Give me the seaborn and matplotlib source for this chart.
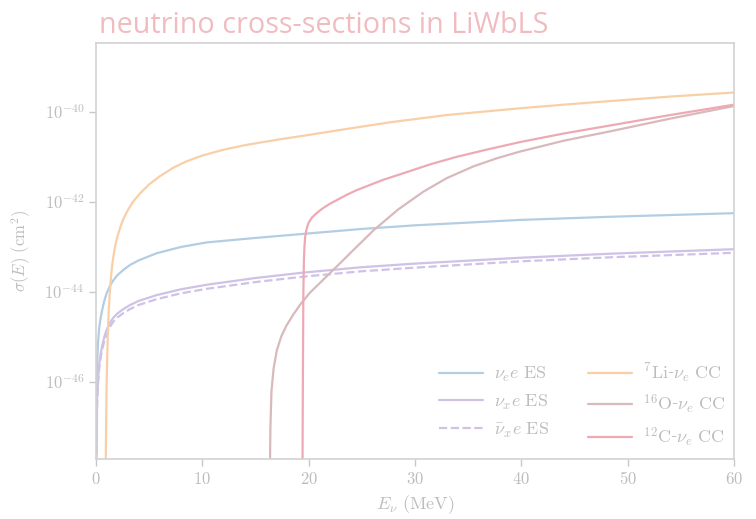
import numpy as np
import pandas as pd
import matplotlib
matplotlib.use("Agg")
import matplotlib.pyplot as plt
import seaborn as sns

# Neutrino energies (MeV) and log10 of the cross-section (cm^2) for each channel
e_nue_es = [0.02, 0.1, 0.2, 0.3, 0.45, 0.6, 0.8, 1.0, 1.3, 1.6, 2.0, 2.57, 3.2, 4.0, 5.7, 8.0, 10.4, 15.0, 19.5,
            25.0, 30.0, 39.9, 48.4, 60.0]
s_nue_es = [-47.5, -45.6, -45.1, -44.8, -44.55, -44.38, -44.18, -44.03, -43.87, -43.75, -43.63, -43.51, -43.4,
            -43.3, -43.14, -43.0, -42.9, -42.8, -42.71, -42.6, -42.52, -42.4, -42.33, -42.25]

e_nux_es = [0.02, 0.1, 0.2, 0.3, 0.45, 0.6, 0.8, 1.0, 1.3, 1.6, 2.0, 2.57, 3.2, 4.0, 5.7, 8.0, 10.4, 15.0, 19.5,
            25.0, 30.0, 39.9, 48.4, 60.0]
s_nux_es = [-48.3, -46.4, -45.9, -45.6, -45.35, -45.17, -44.98, -44.84, -44.69, -44.58, -44.48, -44.38, -44.29,
            -44.2, -44.07, -43.94, -43.84, -43.69, -43.57, -43.45, -43.37, -43.24, -43.15, -43.05]

e_nuxbar_es = [0.02, 0.1, 0.2, 0.3, 0.45, 0.6, 0.8, 1.0, 1.3, 1.6, 2.0, 2.57, 3.2, 4.0, 5.7, 8.0, 10.4, 15.0, 19.5,
               25.0, 30.0, 39.9, 48.4, 60.0]
s_nuxbar_es = [-48.4, -46.5, -46.0, -45.7, -45.44, -45.26, -45.07, -44.93, -44.78, -44.67, -44.57, -44.47, -44.38,
               -44.29, -44.16, -44.03, -43.93, -43.78, -43.66, -43.54, -43.46, -43.32, -43.23, -43.13]

e_li7_cc = [0.86, 0.95, 1.0, 1.1, 1.2, 1.3, 1.4, 1.5, 1.63, 1.8, 2.0, 2.3, 2.57, 3.0, 3.5, 4.14, 5.0, 6.0, 7.27,
            8.5, 10.0, 12.0, 14.0, 17.0, 19.8, 23.0, 27.7, 33.0, 39.9, 44.0, 48.4, 54.0, 60.0]
s_li7_cc = [-49.0, -47.0, -46.0, -45.0, -44.4, -44.0, -43.7, -43.45, -43.22, -42.98, -42.78, -42.55, -42.38,
            -42.18, -41.99, -41.81, -41.61, -41.43, -41.24, -41.1, -40.97, -40.84, -40.74, -40.62, -40.52, -40.4,
            -40.23, -40.07, -39.92, -39.84, -39.76, -39.66, -39.57]

e_o16_cc = [16.3, 16.4, 16.5, 16.7, 17.0, 17.4, 17.9, 18.5, 19.2, 20.1, 21.4, 23.0, 24.5, 26.1, 28.4, 30.8, 33.0,
            35.5, 37.7, 39.9, 44.0, 48.4, 54.0, 60.0]
s_o16_cc = [-49.0, -47.0, -46.2, -45.7, -45.3, -45.0, -44.75, -44.52, -44.28, -44.02, -43.72, -43.35, -43.0,
            -42.63, -42.17, -41.77, -41.47, -41.21, -41.03, -40.88, -40.64, -40.43, -40.15, -39.87]

e_c12_cc = [19.4, 19.45, 19.5, 19.55, 19.6, 19.66, 19.75, 19.85, 20.0, 20.3, 20.6, 21.0, 21.4, 22.0, 22.8, 23.6,
            24.5, 27.0, 29.2, 31.5, 33.9, 36.9, 39.9, 44.0, 48.4, 54.0, 60.0]
s_c12_cc = [-49.0, -46.0, -44.0, -43.3, -43.0, -42.8, -42.66, -42.56, -42.46, -42.35, -42.28, -42.2, -42.13,
            -42.04, -41.94, -41.84, -41.74, -41.51, -41.34, -41.16, -41.0, -40.83, -40.67, -40.48, -40.3, -40.07,
            -39.84]

channels = [
    (r"$\nu_e e\ \mathrm{ES}$", e_nue_es, s_nue_es, "#b3cde3", "-"),
    (r"$\nu_x e\ \mathrm{ES}$", e_nux_es, s_nux_es, "#cfc2e6", "-"),
    (r"$\bar{\nu}_x e\ \mathrm{ES}$", e_nuxbar_es, s_nuxbar_es, "#cfc2e6", "--"),
    (r"$^7\mathrm{Li}$-$\nu_e\ \mathrm{CC}$", e_li7_cc, s_li7_cc, "#f9cfa8", "-"),
    (r"$^{16}\mathrm{O}$-$\nu_e\ \mathrm{CC}$", e_o16_cc, s_o16_cc, "#d9b9bb", "-"),
    (r"$^{12}\mathrm{C}$-$\nu_e\ \mathrm{CC}$", e_c12_cc, s_c12_cc, "#eeaab3", "-"),
]

sns.set_theme(style="white")
plt.rcParams["mathtext.fontset"] = "cm"
plt.rcParams["font.family"] = ["DejaVu Serif"]

fig = plt.figure(figsize=(7.56, 5.19), dpi=100)
ax = fig.add_axes([0.127, 0.1156, 0.844, 0.8016])

for label, e, s, color, ls in channels:
    df = pd.DataFrame({"E": e, "sigma": 10.0 ** np.array(s)})
    sns.lineplot(data=df, x="E", y="sigma", ax=ax, color=color, linestyle=ls,
                 linewidth=1.6, label=label, sort=False, estimator=None)

ax.set_yscale("log")
ax.set_xlim(0, 60)
ax.set_ylim(10 ** -47.71, 10 ** -38.47)
ax.set_yticks([1e-46, 1e-44, 1e-42, 1e-40])
ax.set_yticklabels([r"$10^{-46}$", r"$10^{-44}$", r"$10^{-42}$", r"$10^{-40}$"])
ax.yaxis.set_minor_locator(matplotlib.ticker.NullLocator())
ax.set_xticks([0, 10, 20, 30, 40, 50, 60])
ax.set_xticklabels([r"$0$", r"$10$", r"$20$", r"$30$", r"$40$", r"$50$", r"$60$"])

grey = "#c8c8c8"
txt = "#bdbdbd"
for sp in ax.spines.values():
    sp.set_color("#d2d2d2")
    sp.set_linewidth(1.2)
ax.tick_params(axis="both", which="major", direction="out", length=5, width=1,
               color=grey, labelcolor=txt, labelsize=12, left=True, bottom=True,
               top=False, right=False)

ax.set_xlabel(r"$E_\nu\ (\mathrm{MeV})$", fontsize=13, color=txt, labelpad=4)
ax.set_ylabel(r"$\sigma(E)\ (\mathrm{cm}^2)$", fontsize=12, color=txt, labelpad=8)

ax.set_title("neutrino cross-sections in LiWbLS", loc="left", fontsize=20.7,
             color="#f1bcc0", family="Open Sans", pad=7, x=0.005)

leg = ax.legend(ncol=2, loc="lower right", bbox_to_anchor=(1.012, -0.014),
                frameon=False, fontsize=13, handlelength=2.4, handletextpad=0.6,
                columnspacing=2.2, labelspacing=0.48)
for t in leg.get_texts():
    t.set_color(txt)

fig.savefig("out.png", dpi=100)
